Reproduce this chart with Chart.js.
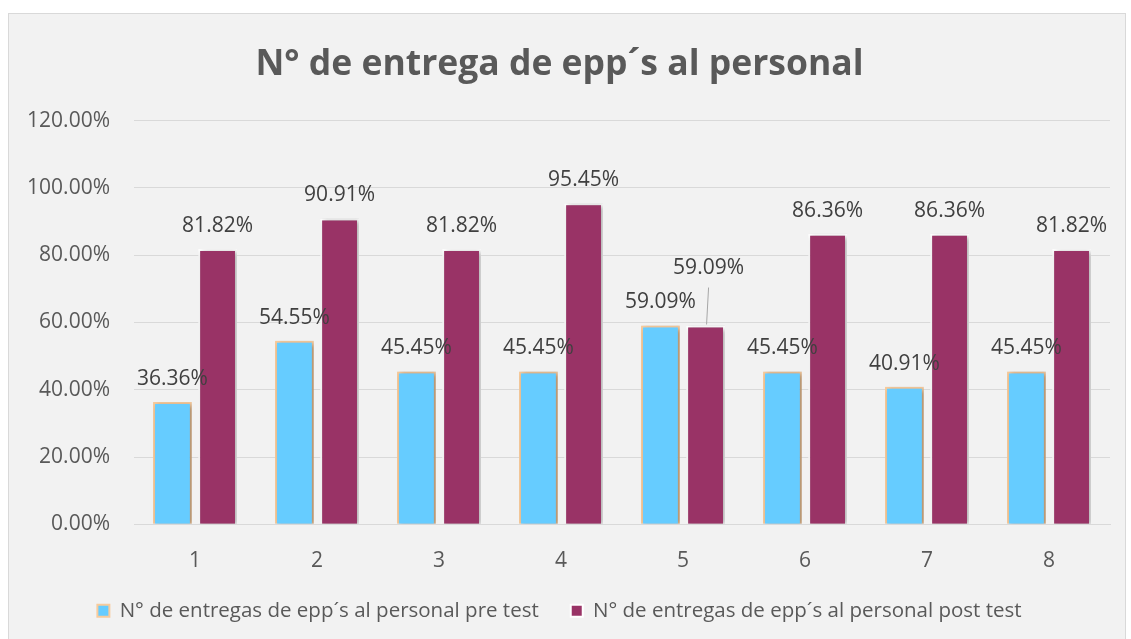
<!DOCTYPE html>
<html>
<head>
<meta charset="utf-8">
<script src="https://cdn.jsdelivr.net/npm/chart.js@4.4.1/dist/chart.umd.min.js"></script>
<style>
  html, body { margin: 0; padding: 0; background: #ffffff; overflow: hidden; }
  .frame {
    position: absolute; left: 8px; top: 13px; width: 1116px; height: 640px;
    background: #f2f2f2; border: 1px solid #d9d9d9;
  }
  .frame canvas { display: block; }
</style>
</head>
<body>
<div class="frame"><canvas class="js-chart" width="1116" height="617"></canvas></div>
<script>
// data
const categories = ['1', '2', '3', '4', '5', '6', '7', '8'];
const preTest = [36.36, 54.55, 45.45, 45.45, 59.09, 45.45, 40.91, 45.45];
const postTest = [81.82, 90.91, 81.82, 95.45, 59.09, 86.36, 86.36, 81.82];
const seriesNames = [
  'N° de entregas de epp´s al personal pre test',
  'N° de entregas de epp´s al personal post test',
];
const yTicks = [0, 20, 40, 60, 80, 100, 120];

const FONT = 'Open Sans';
const TEXT = '#595959';

// soft drop shadow under the bars
const barShadow = {
  id: 'barShadow',
  beforeDatasetsDraw(chart) {
    const { ctx } = chart;
    ctx.save();
    ctx.shadowColor = 'rgba(0, 0, 0, 0.35)';
    ctx.shadowBlur = 5;
    ctx.shadowOffsetX = 2;
    ctx.shadowOffsetY = 1;
  },
  afterDatasetsDraw(chart) {
    chart.ctx.restore();
  },
};

// value labels above each bar (one moved up with a leader line)
const valueLabels = {
  id: 'valueLabels',
  afterDatasetsDraw(chart, args, options) {
    const { ctx } = chart;
    ctx.save();
    ctx.font = `${options.size}px ${FONT}`;
    ctx.fillStyle = options.color;
    ctx.textAlign = 'center';
    ctx.textBaseline = 'middle';
    chart.data.datasets.forEach((ds, di) => {
      const meta = chart.getDatasetMeta(di);
      meta.data.forEach((bar, i) => {
        const moved = options.moved.find((m) => m.dataset === di && m.index === i);
        let x = bar.x;
        let y = bar.y - 23;
        if (moved) {
          x += moved.dx;
          y = bar.y + moved.dy;
          ctx.strokeStyle = '#a6a6a6';
          ctx.lineWidth = 1;
          ctx.beginPath();
          ctx.moveTo(x, y + 19);
          ctx.lineTo(bar.x + 1, bar.y - 1);
          ctx.stroke();
        }
        ctx.fillText(`${ds.data[i].toFixed(2)}%`, x, y);
      });
    });
    ctx.restore();
  },
};

const ctx = document.querySelector('.js-chart').getContext('2d');

const chart = new Chart(ctx, {
  type: 'bar',
  data: {
    labels: categories,
    datasets: [
      {
        label: seriesNames[0],
        data: preTest,
        backgroundColor: '#66ccff',
        borderColor: '#f8cb9c',
        borderWidth: 2,
        categoryPercentage: 0.74,
        barPercentage: 0.86,
      },
      {
        label: seriesNames[1],
        data: postTest,
        backgroundColor: '#993366',
        borderColor: '#ffffff',
        borderWidth: 2,
        categoryPercentage: 0.74,
        barPercentage: 0.86,
      },
    ],
  },
  plugins: [barShadow, valueLabels],
  options: {
    responsive: false,
    animation: false,
    layout: { padding: { left: 0, right: 15, top: 0, bottom: 0 } },
    plugins: {
      title: {
        display: true,
        text: 'N° de entrega de epp´s al personal',
        color: TEXT,
        font: { family: FONT, size: 35.5, weight: 'bold' },
        padding: { top: 30, bottom: 34 },
      },
      legend: {
        position: 'bottom',
        labels: {
          color: TEXT,
          boxWidth: 12,
          boxHeight: 12,
          padding: 32,
          font: { family: FONT, size: 20.5 },
        },
      },
      tooltip: { enabled: false },
      valueLabels: {
        size: 21,
        color: '#404040',
        moved: [{ dataset: 1, index: 4, dx: 3, dy: -57 }],
      },
    },
    scales: {
      x: {
        grid: { display: false },
        border: { color: '#d9d9d9' },
        ticks: { color: TEXT, font: { family: FONT, size: 21 }, padding: 16 },
        afterFit(scale) {
          scale.height -= 21;
        },
      },
      y: {
        min: 0,
        max: 120,
        afterBuildTicks(scale) {
          scale.ticks = yTicks.map((v) => ({ value: v }));
        },
        afterFit(scale) {
          scale.width = 125;
        },
        grid: { color: '#d9d9d9', drawTicks: false },
        border: { display: false },
        ticks: {
          color: TEXT,
          padding: 24,
          font: { family: FONT, size: 21 },
          callback: (v) => `${v.toFixed(2)}%`,
        },
      },
    },
  },
});
</script>
</body>
</html>
